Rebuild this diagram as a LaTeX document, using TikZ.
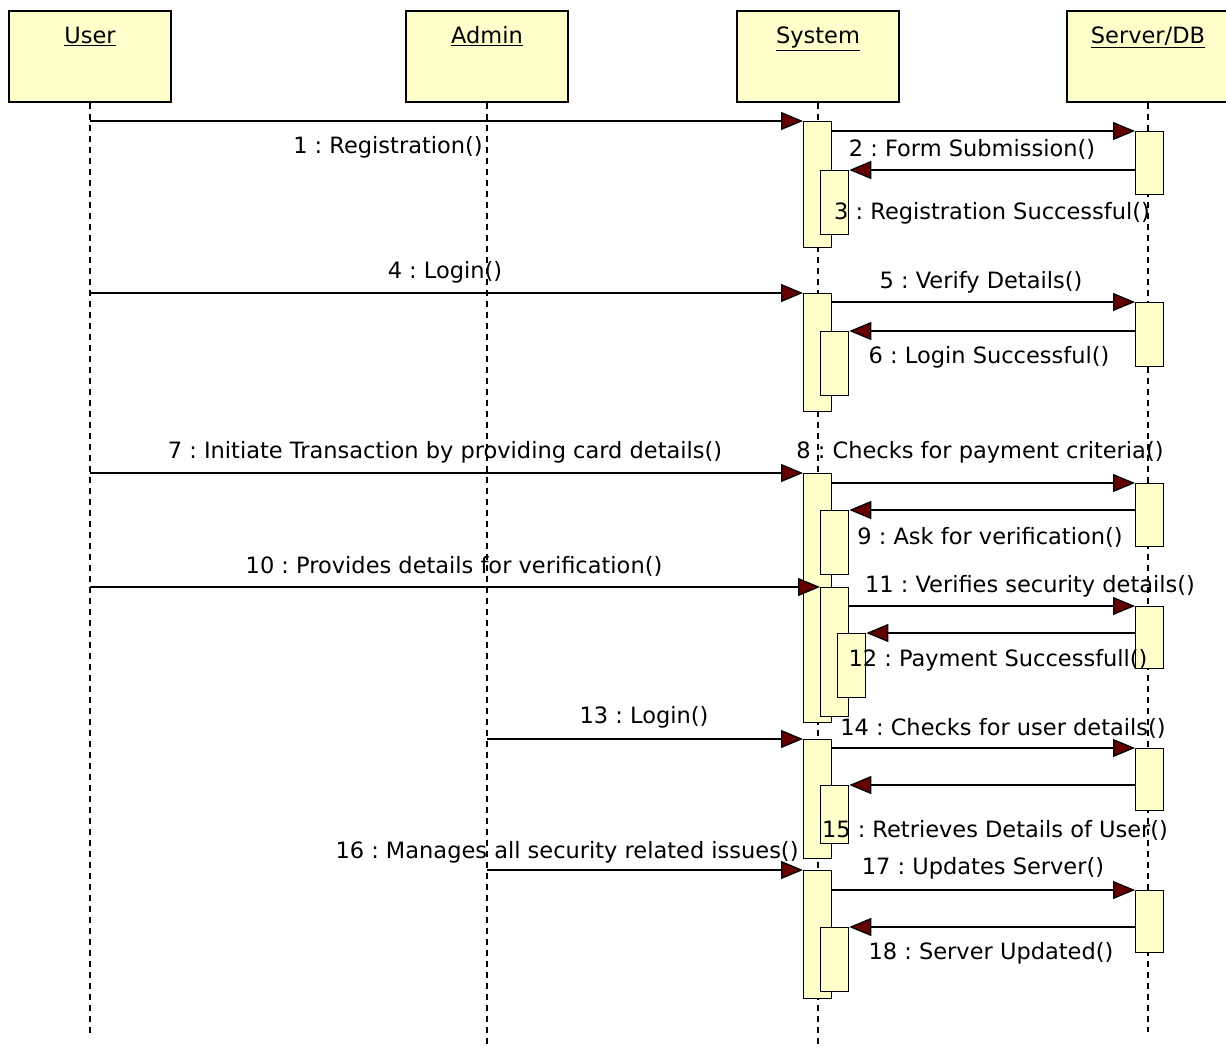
\documentclass[tikz,border=0pt]{standalone}
\usepackage{fontspec}
\setmainfont{DejaVu Sans}
\usetikzlibrary{arrows.meta}

\definecolor{notefill}{RGB}{255,255,204}
\definecolor{tipred}{RGB}{100,0,0}

\begin{document}
\frenchspacing
\begin{tikzpicture}[x=1pt,y=-1pt,
  head/.style={draw, line width=1.5pt, fill=notefill, minimum width=162pt,
    inner sep=0pt, text height=33pt, text depth=58pt, anchor=north,
    font=\fontsize{22.5}{26}\selectfont},
  act/.style={draw, line width=1.3pt, fill=notefill, minimum width=28pt,
    inner sep=0pt, anchor=north west},
  life/.style={dash pattern=on 6pt off 5pt, line width=1.3pt},
  msg/.style={line width=1.3pt, -{Triangle[length=22pt,width=18pt,fill=tipred]}},
  lbl/.style={font=\fontsize{22.5}{26}\selectfont, inner sep=0pt}]

\useasboundingbox (0,0) rectangle (1226,1053);

% participants
\node[head] (user)   at (90,10)   {\underline{User}};
\node[head] (admin)  at (487,10)  {\underline{Admin}};
\node[head] (system) at (818,10)  {\underline{System}};
\node[head] (server) at (1148,10) {\underline{Server/DB}};

% lifelines
\draw[life] (user.south)   -- (user.south |- 0,1035);
\draw[life] (admin.south)  -- (admin.south |- 0,1045);
\draw[life] (system.south) -- (system.south |- 0,1048);
\draw[life] (server.south) -- (server.south |- 0,1032);

% activations
\node[act, minimum height=126pt] (sa1) at (803,121) {};
\node[act, minimum height=63pt]  (sv1) at (1135,131) {};
\node[act, minimum height=64pt]  (sn1) at (820,170) {};

\node[act, minimum height=118pt] (sa2) at (803,293) {};
\node[act, minimum height=64pt]  (sv2) at (1135,302) {};
\node[act, minimum height=64pt]  (sn2) at (820,331) {};

\node[act, minimum height=249pt] (sa3) at (803,473) {};
\node[act, minimum height=63pt]  (sv3) at (1135,483) {};
\node[act, minimum height=64pt]  (sn3) at (820,510) {};
\node[act, minimum height=129pt] (sn4) at (820,587) {};
\node[act, minimum height=62pt]  (sv4) at (1135,606) {};
\node[act, minimum height=64pt]  (sn5) at (837,633) {};

\node[act, minimum height=119pt] (sa4) at (803,739) {};
\node[act, minimum height=62pt]  (sv5) at (1135,748) {};
\node[act, minimum height=58pt]  (sn6) at (820,785) {};

\node[act, minimum height=128pt] (sa5) at (803,870) {};
\node[act, minimum height=62pt]  (sv6) at (1135,890) {};
\node[act, minimum height=64pt]  (sn7) at (820,927) {};

% messages
\draw[msg] (user.south |- sa1.north west) -- (sa1.north west);
\draw[msg] (sa1.north east |- sv1.north west) -- (sv1.north west);
\draw[msg] (sv1.west |- sn1.north east) -- (sn1.north east);

\draw[msg] (user.south |- sa2.north west) -- (sa2.north west);
\draw[msg] (sa2.north east |- sv2.north west) -- (sv2.north west);
\draw[msg] (sv2.west |- sn2.north east) -- (sn2.north east);

\draw[msg] (user.south |- sa3.north west) -- (sa3.north west);
\draw[msg] (sa3.north east |- sv3.north west) -- (sv3.north west);
\draw[msg] (sv3.west |- sn3.north east) -- (sn3.north east);
\draw[msg] (user.south |- sn4.north west) -- (sn4.north west);
\draw[msg] (sn4.north east |- sv4.north west) -- (sv4.north west);
\draw[msg] (sv4.west |- sn5.north east) -- (sn5.north east);

\draw[msg] (admin.south |- sa4.north west) -- (sa4.north west);
\draw[msg] (sa4.north east |- sv5.north west) -- (sv5.north west);
\draw[msg] (sv5.west |- sn6.north east) -- (sn6.north east);

\draw[msg] (admin.south |- sa5.north west) -- (sa5.north west);
\draw[msg] (sa5.north east |- sv6.north west) -- (sv6.north west);
\draw[msg] (sv6.west |- sn7.north east) -- (sn7.north east);

% message labels
\node[lbl] (l1)  at (388,147) {1 : Registration()};
\node[lbl] (l2)  at (972,149) {2 : Form Submission()};
\node[lbl] (l3)  at (992,213) {3 : Registration Successful()};
\node[lbl] (l4)  at (445,272) {4 : Login()};
\node[lbl] (l5)  at (981,282) {5 : Verify Details()};
\node[lbl] (l6)  at (989,357) {6 : Login Successful()};
\node[lbl] (l7)  at (445,452) {7 : Initiate Transaction by providing card details()};
\node[lbl] (l8)  at (980,452) {8 : Checks for payment criteria()};
\node[lbl] (l9)  at (990,537) {9 : Ask for verification()};
\node[lbl] (l10) at (454,566) {10 : Provides details for verification()};
\node[lbl] (l11) at (1030,586) {11 : Verifies security details()};
\node[lbl] (l12) at (998,660) {12 : Payment Successfull()};
\node[lbl] (l13) at (644,717) {13 : Login()};
\node[lbl] (l14) at (1003,728) {14 : Checks for user details()};
\node[lbl] (l15) at (995,830) {15 : Retrieves Details of User()};
\node[lbl] (l16) at (567,852) {16 : Manages all security related issues()};
\node[lbl] (l17) at (983,868) {17 : Updates Server()};
\node[lbl] (l18) at (991,953) {18 : Server Updated()};

\end{tikzpicture}
\end{document}
